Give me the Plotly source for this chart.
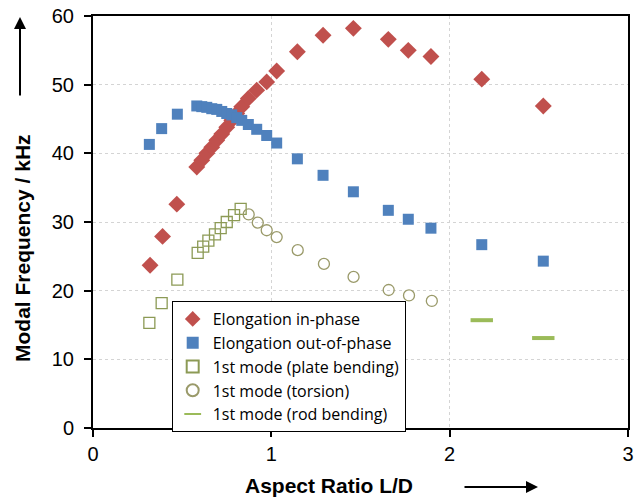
import plotly.graph_objects as go

# Elongation in-phase
x_inph = [0.32, 0.39, 0.47, 0.582, 0.61, 0.638, 0.666, 0.694, 0.722, 0.75, 0.778, 0.806, 0.834,
          0.871, 0.918, 0.974, 1.03, 1.146, 1.29, 1.46, 1.656, 1.768, 1.895, 2.18, 2.525]
y_inph = [23.7, 27.9, 32.6, 38.0, 39.0, 40.0, 40.9, 41.9, 42.8, 43.8, 44.8, 45.8, 46.8,
          48.0, 49.2, 50.4, 52.0, 54.8, 57.2, 58.2, 56.6, 55.0, 54.1, 50.8, 46.9]

# Elongation out-of-phase
x_outph = [0.316, 0.385, 0.473, 0.582, 0.61, 0.638, 0.666, 0.694, 0.722, 0.75, 0.778, 0.806, 0.834,
           0.871, 0.918, 0.974, 1.03, 1.146, 1.29, 1.46, 1.656, 1.768, 1.895, 2.18, 2.525]
y_outph = [41.3, 43.6, 45.7, 46.9, 46.8, 46.7, 46.5, 46.4, 46.1, 45.8, 45.6, 45.2, 44.8,
           44.2, 43.5, 42.6, 41.5, 39.2, 36.8, 34.4, 31.7, 30.4, 29.1, 26.7, 24.3]

# 1st mode (plate bending)
x_plate = [0.316, 0.385, 0.473, 0.587, 0.618, 0.647, 0.684, 0.716, 0.75, 0.791, 0.828]
y_plate = [15.3, 18.2, 21.6, 25.5, 26.4, 27.3, 28.2, 29.1, 30.0, 31.0, 31.9]

# 1st mode (torsion)
x_tors = [0.873, 0.924, 0.974, 1.03, 1.148, 1.295, 1.461, 1.658, 1.772, 1.9]
y_tors = [31.1, 29.9, 28.8, 27.8, 25.9, 23.9, 22.0, 20.1, 19.3, 18.5]

# 1st mode (rod bending)
x_rod = [2.18, 2.525]
y_rod = [15.7, 13.1]

names = ["Elongation in-phase", "Elongation out-of-phase", "1st mode (plate bending)",
         "1st mode (torsion)", "1st mode (rod bending)"]

x_ticks = [0, 1, 2, 3]
y_ticks = [0, 10, 20, 30, 40, 50, 60]

fig = go.Figure()
fig.add_trace(go.Scatter(x=x_inph, y=y_inph, mode="markers", name=names[0], legendgroup="a",
                         marker=dict(symbol="diamond", size=13, color="#C0504D")))
fig.add_trace(go.Scatter(x=x_outph, y=y_outph, mode="markers", name=names[1], legendgroup="b",
                         marker=dict(symbol="square", size=11, color="#4F81BD")))
fig.add_trace(go.Scatter(x=x_plate, y=y_plate, mode="markers", name=names[2], legendgroup="c",
                         marker=dict(symbol="square-open", size=11, color="#8C9A55",
                                     line=dict(width=1.3))))
fig.add_trace(go.Scatter(x=x_tors, y=y_tors, mode="markers", name=names[3], legendgroup="d",
                         marker=dict(symbol="circle-open", size=11, color="#9A9A6A",
                                     line=dict(width=1.3))))
fig.add_trace(go.Scatter(x=x_rod, y=y_rod, mode="markers", name=names[4], legendgroup="e",
                         marker=dict(symbol="line-ew", size=16, color="#9BBB59",
                                     line=dict(width=4, color="#9BBB59"))))

W, H = 635, 499
L, R, T, B = 93, 7, 16, 71
pw, ph = W - L - R, H - T - B

def px(xp):  # page pixel -> paper x
    return (xp - L) / pw

def py(yp):  # page pixel -> paper y
    return (H - B - yp) / ph

axis_common = dict(showline=True, linecolor="black", linewidth=2, mirror=True,
                   ticks="outside", ticklen=7, tickwidth=1.5, tickcolor="black",
                   showgrid=True, gridcolor="#d4d4d4", griddash="dot", gridwidth=1,
                   zeroline=False, automargin=False, ticklabeloverflow="allow",
                   tickfont=dict(family="Liberation Sans, Arial", size=20, color="black"))

fig.update_xaxes(range=[0, 3], tickvals=x_ticks, **axis_common)
fig.update_yaxes(range=[0, 60], tickvals=y_ticks, ticklabelstandoff=6, **axis_common)

fig.update_layout(
    width=W, height=H,
    margin=dict(l=L, r=R, t=T, b=B),
    paper_bgcolor="white", plot_bgcolor="white",
    showlegend=True,
    legend=dict(x=px(171.7), y=py(301), xanchor="left", yanchor="top",
                bgcolor="white", bordercolor="black", borderwidth=1,
                font=dict(family="Open Sans", size=16, color="black"),
                tracegroupgap=0, itemsizing="constant", itemwidth=30),
    annotations=[
        dict(text="<b>Modal Frequency / kHz</b>", xref="paper", yref="paper",
             x=px(22), y=py(248), xanchor="center", yanchor="middle",
             textangle=-90, showarrow=False,
             font=dict(family="Liberation Sans, Arial", size=21, color="black")),
        dict(text="<b>Aspect Ratio L/D</b>", xref="paper", yref="paper",
             x=px(329), y=py(485), xanchor="center", yanchor="middle", showarrow=False,
             font=dict(family="Liberation Sans, Arial", size=21, color="black")),
        dict(text="", xref="paper", yref="paper", x=px(20), y=py(17),
             ax=0, ay=80, showarrow=True, arrowhead=2, arrowsize=1.2, arrowwidth=2,
             arrowcolor="black"),
        dict(text="", xref="paper", yref="paper", x=px(538), y=py(487),
             ax=-75, ay=0, showarrow=True, arrowhead=2, arrowsize=1.2, arrowwidth=2,
             arrowcolor="black"),
    ],
)

fig.write_html("out.html", config={"displayModeBar": False},
               post_script="document.body.style.margin='0';document.body.style.overflow='hidden';")
